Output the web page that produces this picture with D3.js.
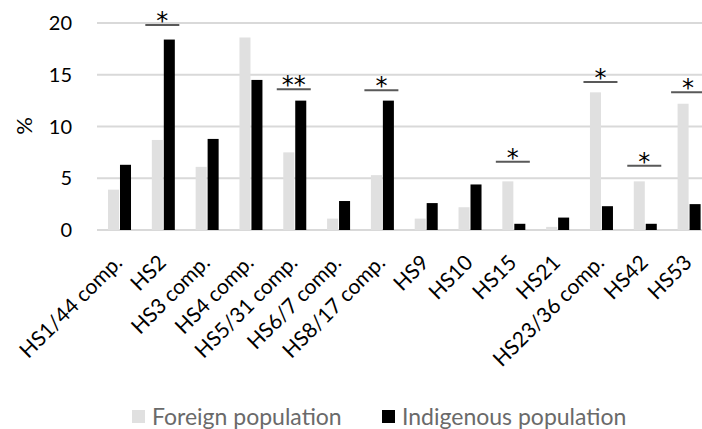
<!DOCTYPE html>
<html lang="en">
<head>
    <meta charset="UTF-8">
    <title>HS chapters, foreign vs indigenous</title>
    <script src="https://d3js.org/d3.v7.min.js"></script>
    <style>
        body { margin: 0; background: #fff; }
        svg { font-family: Lato, "Open Sans", sans-serif; }
    </style>
</head>
<body>
    <div id="chart"></div>

    <script>
        // data
        const categories = ["HS1/44 comp.", "HS2", "HS3 comp.", "HS4 comp.", "HS5/31 comp.", "HS6/7 comp.",
            "HS8/17 comp.", "HS9", "HS10", "HS15", "HS21", "HS23/36 comp.", "HS42", "HS53"];
        const foreign    = [3.9, 8.7, 6.1, 18.6, 7.5, 1.1, 5.3, 1.1, 2.2, 4.7, 0.3, 13.3, 4.7, 12.2];
        const indigenous = [6.3, 18.4, 8.8, 14.5, 12.5, 2.8, 12.5, 2.6, 4.4, 0.6, 1.2, 2.3, 0.6, 2.5];
        const seriesNames = ["Foreign population", "Indigenous population"];
        const yTicks = [0, 5, 10, 15, 20];

        // significance marks: category, height of the bar line (%), stars
        const sigCats   = ["HS2", "HS5/31 comp.", "HS8/17 comp.", "HS15", "HS23/36 comp.", "HS42", "HS53"];
        const sigLevels = [19.8, 13.6, 13.5, 6.6, 14.3, 6.2, 13.3];
        const sigStars  = ["*", "**", "*", "*", "*", "*", "*"];

        const width = 702, height = 429;
        const colors = ["#e0e0e0", "#000000"];

        const svg = d3.select("#chart").append("svg")
            .attr("width", width)
            .attr("height", height);

        const x = d3.scaleBand().domain(categories).range([97.6, 711]);
        const xSub = d3.scaleBand().domain([0, 1]).range([x.bandwidth() / 2 - 11.5, x.bandwidth() / 2 + 11.5]).paddingInner(0.08);
        const y = d3.scaleLinear().domain([0, 20]).range([230, 23]);
        const mid = c => x(c) + x.bandwidth() / 2;

        // gridlines
        svg.append("g").selectAll("line").data(yTicks).join("line")
            .attr("x1", 97).attr("x2", width)
            .attr("y1", d => y(d)).attr("y2", d => y(d))
            .attr("stroke", "#d9d9d9").attr("stroke-width", 2);

        // y tick labels
        svg.append("g").selectAll("text").data(yTicks).join("text")
            .attr("x", 72).attr("y", d => y(d))
            .attr("dy", "0.36em")
            .attr("text-anchor", "end")
            .attr("font-size", 20)
            .attr("fill", "#000")
            .text(d => d);

        svg.append("text")
            .attr("transform", "translate(24,126) rotate(-90)")
            .attr("text-anchor", "middle")
            .attr("dy", "0.36em")
            .attr("font-size", 22)
            .text("%");

        // bars
        const rows = categories.map((c, i) => ({ cat: c, vals: [foreign[i], indigenous[i]] }));
        const groups = svg.append("g").selectAll("g").data(rows).join("g")
            .attr("transform", d => `translate(${x(d.cat)},0)`);
        groups.selectAll("rect").data(d => d.vals.map((v, k) => ({ v, k }))).join("rect")
            .attr("x", d => xSub(d.k))
            .attr("width", xSub.bandwidth())
            .attr("y", d => y(d.v))
            .attr("height", d => y(0) - y(d.v))
            .attr("fill", d => colors[d.k]);

        // x labels, rotated
        svg.append("g").selectAll("text").data(categories).join("text")
            .attr("transform", d => `translate(${mid(d) + 4},264) rotate(-45)`)
            .attr("text-anchor", "end")
            .attr("font-size", 21)
            .attr("fill", "#000")
            .text(d => d);

        // significance lines + stars
        const sig = sigCats.map((c, i) => ({ cat: c, level: sigLevels[i], stars: sigStars[i] }));
        const halfLen = 17;
        const sg = svg.append("g");
        sg.selectAll("line").data(sig).join("line")
            .attr("x1", d => mid(d.cat) - 1 - halfLen)
            .attr("x2", d => mid(d.cat) - 1 + halfLen)
            .attr("y1", d => y(d.level)).attr("y2", d => y(d.level))
            .attr("stroke", "#595959").attr("stroke-width", 2);
        sg.selectAll("text").data(sig).join("text")
            .attr("x", d => mid(d.cat) - 1)
            .attr("y", d => y(d.level) + 4)
            .attr("text-anchor", "middle")
            .attr("font-family", "'DejaVu Sans', sans-serif")
            .attr("font-size", 24)
            .attr("fill", "#000")
            .text(d => d.stars);

        // legend
        const legendX = [132, 382];
        const lg = svg.append("g").selectAll("g").data(seriesNames).join("g")
            .attr("transform", (d, i) => `translate(${legendX[i]},410)`);
        lg.append("rect")
            .attr("width", 13).attr("height", 13)
            .attr("fill", (d, i) => colors[i]);
        lg.append("text")
            .attr("x", 20).attr("y", 7)
            .attr("dy", "0.36em")
            .attr("font-size", 23)
            .attr("fill", "#6a6a6a")
            .text(d => d);
    </script>
</body>
</html>
